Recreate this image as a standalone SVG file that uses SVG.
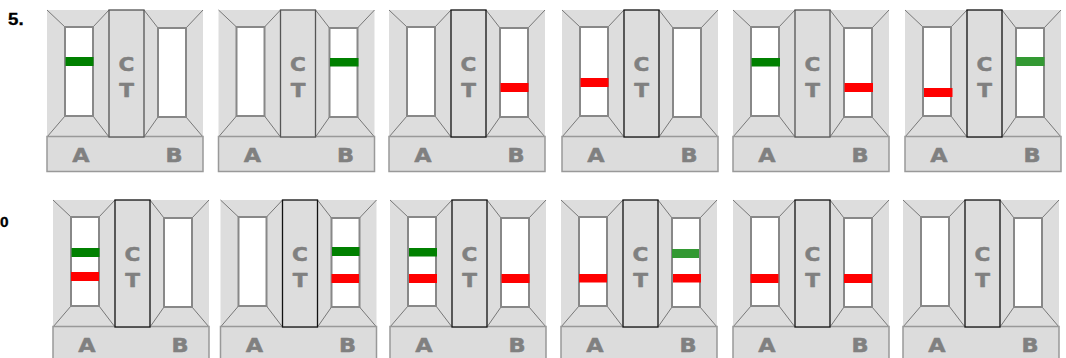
<svg xmlns="http://www.w3.org/2000/svg" xmlns:xlink="http://www.w3.org/1999/xlink" width="1066" height="358" viewBox="0 0 1066 358">
<style>
.bg{fill:#dddddd;stroke:none}
.dg{stroke:#777;stroke-width:1;fill:none}
.win{fill:#fff;stroke:#888;stroke-width:2}
.ct{fill:#dddddd;stroke:#111;stroke-width:1.3}
.ctg{fill:#dddddd;stroke:#555;stroke-width:1.3}
.band{fill:#dcdcdc;stroke:#999;stroke-width:1.5}
.g{fill:#008000}
.lg{fill:#339933}
.r{fill:#ff0000}
</style>
<defs>
<g id="base">
<rect class="bg" x="0" y="0" width="156" height="127"/>
<path class="dg" d="M0 0L18 17M62 0L46 17M97 0L111 18M156 0L139 18M18 106L0 127M46 106L62 127M111 107L97 127M139 107L156 127"/>
<rect class="win" x="18" y="17" width="28" height="89"/>
<rect class="win" x="111" y="18" width="28" height="89"/>
<rect class="band" x="0" y="126.5" width="156" height="35"/>
<g font-family="DejaVu Sans, Verdana, sans-serif" font-weight="700" font-size="20" fill="#808080" stroke="#808080" stroke-width="0.5" stroke-linejoin="round" text-anchor="middle">
<text transform="translate(34,151.5) scale(1.12,1)">A</text>
<text transform="translate(127,151.5) scale(1.12,1)">B</text>
</g>
</g>
<g id="ctk">
<rect class="ct" x="62" y="0" width="35" height="127"/>
<g font-family="DejaVu Sans, Verdana, sans-serif" font-weight="700" font-size="20" fill="#808080" stroke="#808080" stroke-width="0.5" stroke-linejoin="round" text-anchor="middle">
<text transform="translate(79.5,61) scale(1.08,1)">C</text>
<text transform="translate(79.5,87) scale(1.08,1)">T</text>
</g>
</g>
<g id="ctgr">
<rect class="ctg" x="62" y="0" width="35" height="127"/>
<g font-family="DejaVu Sans, Verdana, sans-serif" font-weight="700" font-size="20" fill="#808080" stroke="#808080" stroke-width="0.5" stroke-linejoin="round" text-anchor="middle">
<text transform="translate(79.5,61) scale(1.08,1)">C</text>
<text transform="translate(79.5,87) scale(1.08,1)">T</text>
</g>
</g>
</defs>
<text transform="translate(8,25) scale(1.1,1)" font-family="Liberation Sans, Arial, sans-serif" font-weight="700" font-size="17" fill="#000" stroke="#000" stroke-width="0.3">5.</text>
<text transform="translate(0,227) scale(1.1,1)" font-family="Liberation Sans, Arial, sans-serif" font-weight="700" font-size="14" fill="#000" stroke="#000" stroke-width="0.3">0</text>
<g id="connectors"></g>
<g id="r1c1" transform="translate(47,10)"><use xlink:href="#base"/><use xlink:href="#ctgr"/><rect class="g" x="18.5" y="47" width="28" height="9"/></g>
<g id="r1c2" transform="translate(218.5,10)"><use xlink:href="#base"/><use xlink:href="#ctgr"/><rect class="g" x="111.5" y="48" width="28.5" height="8.5"/></g>
<g id="r1c3" transform="translate(389,10)"><use xlink:href="#base"/><use xlink:href="#ctk"/><rect class="r" x="111.5" y="73" width="28" height="9"/></g>
<g id="r1c4" transform="translate(562,10)"><use xlink:href="#base"/><use xlink:href="#ctk"/><rect class="r" x="18.5" y="68" width="28" height="9"/></g>
<g id="r1c5" transform="translate(733,10)"><use xlink:href="#base"/><use xlink:href="#ctgr"/><rect class="g" x="18.5" y="48" width="28.5" height="8.5"/><rect class="r" x="111.5" y="73" width="28.5" height="9"/></g>
<g id="r1c6" transform="translate(905,10)"><use xlink:href="#base"/><use xlink:href="#ctk"/><rect class="r" x="19" y="78" width="28.5" height="9"/><rect class="lg" x="111" y="47" width="28.5" height="9"/></g>
<g id="r2c1" transform="translate(53,200)"><use xlink:href="#base"/><use xlink:href="#ctk"/><rect class="g" x="18.5" y="48" width="28" height="9"/><rect class="r" x="18" y="72" width="28" height="9"/></g>
<g id="r2c2" transform="translate(220.5,200)"><use xlink:href="#base"/><use xlink:href="#ctk"/><rect class="g" x="111.5" y="47" width="27.5" height="9"/><rect class="r" x="111" y="74" width="27.5" height="9"/></g>
<g id="r2c3" transform="translate(390,200)"><use xlink:href="#base"/><use xlink:href="#ctk"/><rect class="g" x="19" y="48" width="28" height="8.5"/><rect class="r" x="19" y="74" width="28" height="9"/><rect class="r" x="111.5" y="74" width="28" height="9"/></g>
<g id="r2c4" transform="translate(561,200)"><use xlink:href="#base"/><use xlink:href="#ctk"/><rect class="r" x="18" y="74" width="28" height="8.5"/><rect class="lg" x="111" y="49" width="27" height="9"/><rect class="r" x="112" y="74" width="28" height="8.5"/></g>
<g id="r2c5" transform="translate(733,200)"><use xlink:href="#base"/><use xlink:href="#ctk"/><rect class="r" x="17.5" y="74" width="28" height="9"/><rect class="r" x="111" y="74" width="28" height="9"/></g>
<g id="r2c6" transform="translate(903,200)"><use xlink:href="#base"/><use xlink:href="#ctk"/></g>
</svg>
